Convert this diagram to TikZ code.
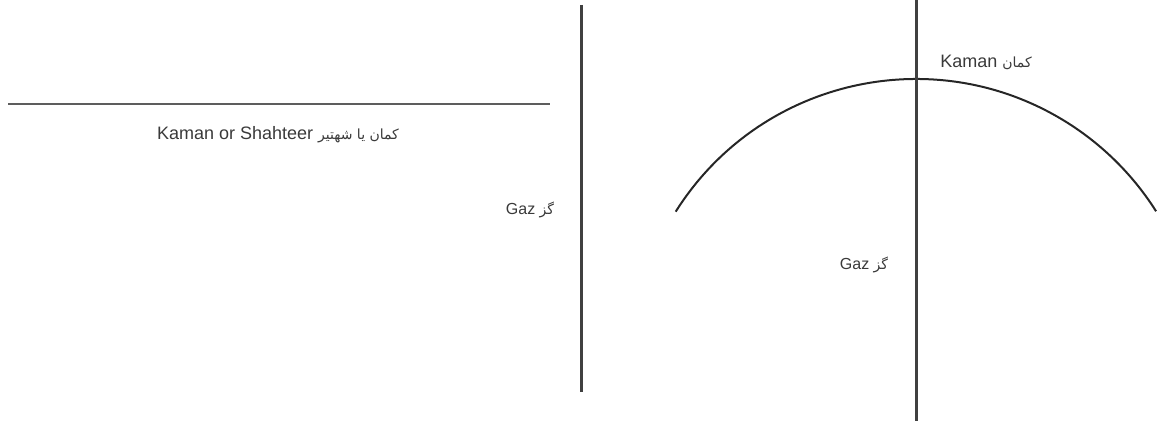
\documentclass[tikz,border=0pt]{standalone}
\usepackage{fontspec}
\setmainfont{Liberation Sans}
\newfontfamily\urdufont[Script=Arabic]{DejaVu Sans}
\TeXXeTstate=1
\definecolor{linec}{HTML}{404040}
\definecolor{textc}{HTML}{3A3A3A}
\newcommand{\ur}[1]{{\urdufont\fontsize{14}{16}\selectfont\beginR #1\endR}}
\begin{document}
\begin{tikzpicture}[x=1pt,y=1pt,
  lbl/.style={text=textc,font=\fontsize{18}{20}\selectfont,inner sep=1pt},
  lblsmall/.style={text=textc,font=\fontsize{16}{18}\selectfont,inner sep=1pt},
  thinline/.style={draw=linec!85,line width=1.4pt},
  thickline/.style={draw=linec,line width=3pt},
  arcline/.style={draw=black!85,line width=2pt}]
\useasboundingbox (0,0) rectangle (1165,421);
% left figure
\coordinate (h1) at (8,317);
\coordinate (h2) at (550,317);
\draw[thinline] (h1) -- (h2);
\node[lbl] (kamanA) at (278,286) {Kaman or Shahteer \ur{کمان یا شهتیر}};
\coordinate (v1t) at (581,416);
\coordinate (v1b) at (581,29);
\draw[thickline] (v1t) -- (v1b);
\node[lblsmall] (gazA) at (530,211) {Gaz \ur{گز}};
% right figure
\coordinate (c) at (916,58);
\draw[arcline] (c) ++(147.8:284) arc[start angle=147.8,end angle=32.3,radius=284];
\coordinate (v2t) at (916,421);
\coordinate (v2b) at (916,0);
\draw[thickline] (v2t) -- (v2b);
\node[lbl] (kamanB) at (986,359) {Kaman \ur{کمان}};
\node[lblsmall] (gazB) at (864,156) {Gaz \ur{گز}};
\end{tikzpicture}
\end{document}
